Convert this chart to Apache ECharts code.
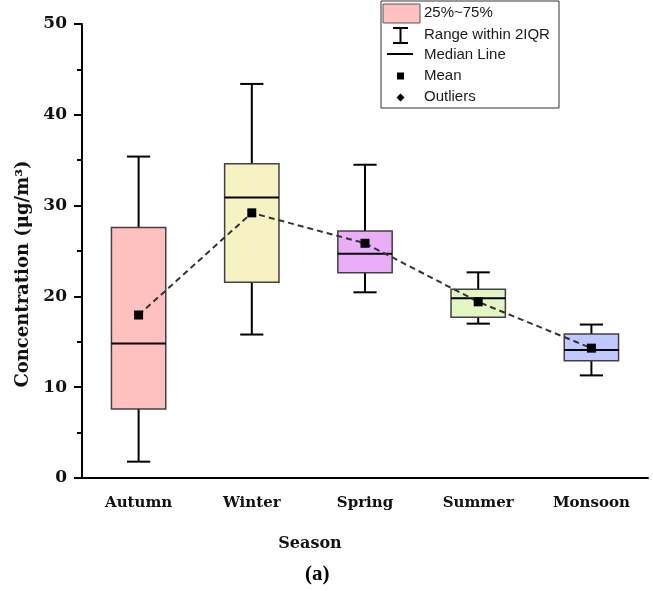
<!DOCTYPE html>
<html>
<head>
<meta charset="utf-8">
<script src="https://cdn.jsdelivr.net/npm/echarts@6/dist/echarts.min.js"></script>
<style>html,body{margin:0;padding:0;background:#fff}#c{width:653px;height:591px}</style>
</head>
<body>
<div id="c"></div>
<script>
const seasons = ['Autumn', 'Winter', 'Spring', 'Summer', 'Monsoon'];
const whiskerLow = [1.8, 15.8, 20.45, 17.0, 11.3];
const q1 = [7.6, 21.55, 22.6, 17.7, 12.9];
const median = [14.8, 30.9, 24.7, 19.8, 14.1];
const q3 = [27.6, 34.6, 27.2, 20.8, 15.85];
const whiskerHigh = [35.4, 43.4, 34.5, 22.65, 16.9];
const mean = [17.95, 29.2, 25.85, 19.4, 14.3];
const boxColors = ['#FFC0C0', '#F7F2C2', '#E9AEF7', '#E3F5C3', '#BFC8FF'];
const yTicks = [0, 10, 20, 30, 40, 50];

const boxData = seasons.map((s, i) => [i, whiskerLow[i], q1[i], median[i], q3[i], whiskerHigh[i]]);

const serif = 'DejaVu Serif';
const chart = echarts.init(document.getElementById('c'));

function renderBox(params, api) {
  const idx = api.value(0);
  const bw = api.size([1, 0])[0];
  const boxW = bw * 0.48, capW = bw * 0.205;
  const pLow = api.coord([idx, api.value(1)]);
  const pQ1 = api.coord([idx, api.value(2)]);
  const pMed = api.coord([idx, api.value(3)]);
  const pQ3 = api.coord([idx, api.value(4)]);
  const pHigh = api.coord([idx, api.value(5)]);
  const cx = pQ1[0];
  const blk = { stroke: '#000', lineWidth: 2 };
  return {
    type: 'group',
    children: [
      { type: 'line', shape: { x1: cx, y1: pHigh[1], x2: cx, y2: pQ3[1] }, style: blk },
      { type: 'line', shape: { x1: cx, y1: pQ1[1], x2: cx, y2: pLow[1] }, style: blk },
      { type: 'line', shape: { x1: cx - capW / 2, y1: pHigh[1], x2: cx + capW / 2, y2: pHigh[1] }, style: blk },
      { type: 'line', shape: { x1: cx - capW / 2, y1: pLow[1], x2: cx + capW / 2, y2: pLow[1] }, style: blk },
      { type: 'rect', shape: { x: cx - boxW / 2, y: pQ3[1], width: boxW, height: pQ1[1] - pQ3[1] },
        style: { fill: boxColors[idx], stroke: '#404040', lineWidth: 1.5 } },
      { type: 'line', shape: { x1: cx - boxW / 2, y1: pMed[1], x2: cx + boxW / 2, y2: pMed[1] }, style: blk }
    ]
  };
}

const legendFont = '15px "Liberation Sans", Arial, sans-serif';
const lx = 424;
const legendItems = ['25%~75%', 'Range within 2IQR', 'Median Line', 'Mean', 'Outliers'];
const legendY = [13, 35, 55, 76, 97];

const option = {
  animation: false,
  backgroundColor: '#fff',
  grid: { left: 82, right: 5, top: 24, bottom: 113, containLabel: false },
  title: {
    text: '(a)', left: 300, top: 559,
    textStyle: { fontFamily: 'Liberation Serif', fontWeight: 'bold', fontSize: 21, color: '#000' }
  },
  xAxis: {
    type: 'category',
    data: seasons,
    boundaryGap: true,
    name: 'Season',
    nameLocation: 'middle',
    nameGap: 58,
    nameTextStyle: { fontFamily: serif, fontWeight: 'bold', fontSize: 16, color: '#111', padding: [0, 110, 0, 0] },
    axisLine: { lineStyle: { color: '#000', width: 2 } },
    axisTick: { alignWithLabel: true, length: 7, lineStyle: { color: '#000', width: 2 } },
    axisLabel: { margin: 18, fontFamily: serif, fontWeight: 'bold', fontSize: 15, color: '#111' },
    splitLine: { show: false }
  },
  yAxis: {
    type: 'value',
    min: 0, max: 50, interval: 10,
    name: 'Concentration (μg/m³)',
    nameLocation: 'middle',
    nameGap: 48,
    nameRotate: 90,
    nameTextStyle: { fontFamily: serif, fontWeight: 'bold', fontSize: 18, color: '#111', padding: [0, 46, 0, 0] },
    axisLine: { show: true, lineStyle: { color: '#000', width: 2 } },
    axisTick: { show: true, length: 8, lineStyle: { color: '#000', width: 2 } },
    minorTick: { show: true, splitNumber: 2, length: 5, lineStyle: { color: '#000', width: 2 } },
    axisLabel: { margin: 15, fontFamily: serif, fontWeight: 'bold', fontSize: 17, color: '#111',
      formatter: v => yTicks.includes(v) ? String(v) : '' },
    splitLine: { show: false }
  },
  series: [
    {
      type: 'custom',
      name: '25%~75%',
      renderItem: renderBox,
      encode: { x: 0, y: [1, 2, 3, 4, 5] },
      data: boxData,
      z: 2
    },
    {
      type: 'line',
      name: 'Mean',
      data: mean,
      symbol: 'rect',
      symbolSize: 9,
      itemStyle: { color: '#000' },
      lineStyle: { color: '#333', width: 2, type: [6, 4] },
      z: 3
    }
  ],
  graphic: [
    { type: 'rect', shape: { x: 381, y: 1, width: 178, height: 107 }, style: { fill: '#fff', stroke: '#333', lineWidth: 1 }, z: 10 },
    { type: 'rect', shape: { x: 383, y: 4, width: 37, height: 19 }, style: { fill: boxColors[0], stroke: '#555', lineWidth: 1 }, z: 11 },
    { type: 'line', shape: { x1: 400.5, y1: 28, x2: 400.5, y2: 43 }, style: { stroke: '#000', lineWidth: 2 }, z: 11 },
    { type: 'line', shape: { x1: 393, y1: 28, x2: 408, y2: 28 }, style: { stroke: '#000', lineWidth: 2 }, z: 11 },
    { type: 'line', shape: { x1: 393, y1: 43, x2: 408, y2: 43 }, style: { stroke: '#000', lineWidth: 2 }, z: 11 },
    { type: 'line', shape: { x1: 387, y1: 54, x2: 413, y2: 54 }, style: { stroke: '#000', lineWidth: 2 }, z: 11 },
    { type: 'rect', shape: { x: 397, y: 72.5, width: 7, height: 7 }, style: { fill: '#000' }, z: 11 },
    { type: 'polygon', shape: { points: [[400.5, 93.5], [404.5, 97.5], [400.5, 101.5], [396.5, 97.5]] }, style: { fill: '#000' }, z: 11 }
  ].concat(legendItems.map((t, i) => ({
    type: 'text', x: lx, y: legendY[i], z: 11,
    style: { text: t, font: legendFont, fill: '#1a1a1a', verticalAlign: 'middle', align: 'left' }
  })))
};
chart.setOption(option);
</script>
</body>
</html>
